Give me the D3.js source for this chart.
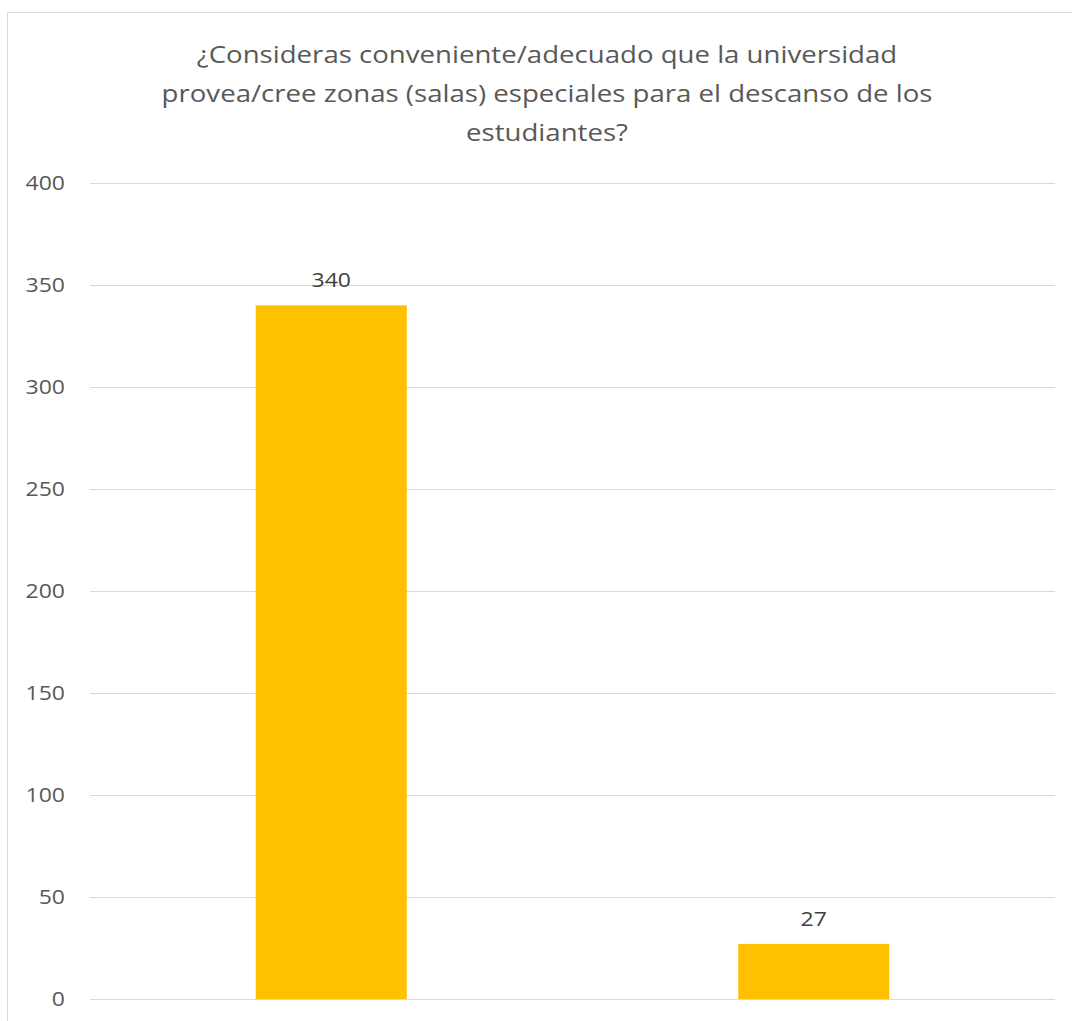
<!DOCTYPE html>
<html>
<head>
<meta charset="utf-8">
<script src="https://cdn.jsdelivr.net/npm/d3@7"></script>
<style>
  html, body { margin: 0; padding: 0; background: #fff; }
  svg { display: block; }
  text { font-family: "Open Sans", "Noto Sans", sans-serif; }
</style>
</head>
<body>
<svg id="chart" width="1072" height="1021"></svg>
<script>
// Survey answers: should the university provide rest areas for students?
const categories = ["Sí", "No"];
const values = [340, 27];
const yTicks = [0, 50, 100, 150, 200, 250, 300, 350, 400];
const titleLines = [
  "¿Consideras conveniente/adecuado que la universidad",
  "provea/cree zonas (salas) especiales para el descanso de los",
  "estudiantes?"
];

const svg = d3.select("#chart");
const stretch = 1.15; // wide lettering

// Outer chart frame (extends past the right and bottom edges)
svg.append("rect")
  .attr("x", 7.5).attr("y", 12.5)
  .attr("width", 1080).attr("height", 1060)
  .attr("fill", "#fff")
  .attr("stroke", "#d9d9d9")
  .attr("stroke-width", 1);

const plot = { left: 90, right: 1055, top: 183, bottom: 999 };

const y = d3.scaleLinear()
  .domain([0, 400])
  .range([plot.bottom, plot.top]);

const gap = 0.687;
const x = d3.scaleBand()
  .domain(categories)
  .range([plot.left, plot.right])
  .paddingInner(gap)
  .paddingOuter(gap / 2);

// Title
const title = svg.append("text")
  .attr("text-anchor", "middle")
  .attr("fill", "#595959")
  .attr("font-size", 24)
  .attr("transform", `translate(547,0) scale(${stretch},1)`);
titleLines.forEach((line, i) => {
  title.append("tspan")
    .attr("x", 0)
    .attr("y", 63 + i * 39)
    .text(line);
});

// Gridlines
svg.append("g")
  .selectAll("line")
  .data(yTicks)
  .join("line")
  .attr("x1", plot.left).attr("x2", plot.right)
  .attr("y1", d => Math.round(y(d)) + 0.5)
  .attr("y2", d => Math.round(y(d)) + 0.5)
  .attr("stroke", "#d9d9d9")
  .attr("stroke-width", 1);

// Y axis labels
const yAxis = d3.axisLeft(y).tickValues(yTicks).tickSize(0).tickPadding(0);
const gy = svg.append("g")
  .attr("transform", "translate(65,0)")
  .call(yAxis);
gy.select(".domain").remove();
gy.selectAll("text")
  .attr("fill", "#595959")
  .attr("font-size", 20)
  .attr("font-family", "'Open Sans', 'Noto Sans', sans-serif")
  .attr("transform", `scale(${stretch},1)`);

// Bars
svg.append("g")
  .selectAll("rect")
  .data(values)
  .join("rect")
  .attr("x", (d, i) => x(categories[i]))
  .attr("y", d => y(d))
  .attr("width", x.bandwidth())
  .attr("height", d => y(0) - y(d))
  .attr("fill", "#FFC000");

// Value labels
svg.append("g")
  .selectAll("text")
  .data(values)
  .join("text")
  .attr("transform", (d, i) =>
    `translate(${x(categories[i]) + x.bandwidth() / 2},${y(d) - 18}) scale(${stretch},1)`)
  .attr("text-anchor", "middle")
  .attr("fill", "#404040")
  .attr("font-size", 20)
  .text(d => d);
</script>
</body>
</html>
